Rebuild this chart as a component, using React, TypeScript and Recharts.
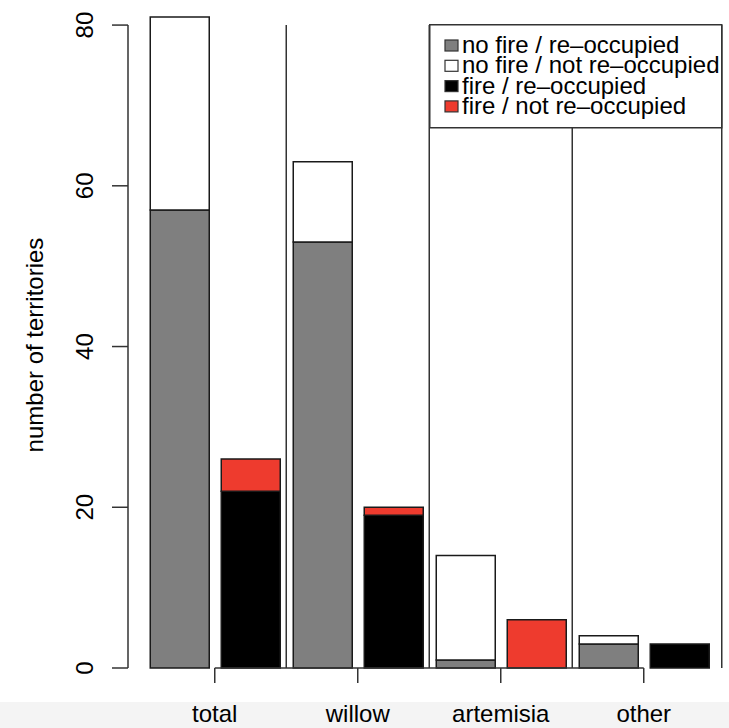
import { BarChart, Bar, XAxis, YAxis, ReferenceLine } from "recharts"

// territories per habitat group
const groups = ["total", "willow", "artemisia", "other"]
const noFireReoccupied = [57, 53, 1, 3]
const noFireNotReoccupied = [24, 10, 13, 1]
const fireReoccupied = [22, 19, 0, 3]
const fireNotReoccupied = [4, 1, 6, 0]
const yTicks = [0, 20, 40, 60, 80]

const legendLabels = [
  "no fire / re\u2013occupied",
  "no fire / not re\u2013occupied",
  "fire / re\u2013occupied",
  "fire / not re\u2013occupied",
]
const colors = ["#7f7f7f", "#ffffff", "#000000", "#ee3b2e"]

const FONT = '"Liberation Sans", Arial, Helvetica, sans-serif'
const LINE = "#333"
const EDGE = "#1a1a1a"

const data = groups.map((g, i) => ({
  group: g,
  grey: noFireReoccupied[i],
  white: noFireNotReoccupied[i],
  black: fireReoccupied[i],
  red: fireNotReoccupied[i],
}))

const yMax = 82
const plotTop = 9
const plotHeight = 659

function GroupTick({ x, y, payload }: any) {
  return (
    <text x={x} y={y + 39} textAnchor="middle" fontSize={24} fontFamily={FONT} fill="#000">
      {payload.value}
    </text>
  )
}

function CountTick({ x, y, payload }: any) {
  return (
    <text
      transform={`translate(${x - 19},${y}) rotate(-90)`}
      textAnchor="middle"
      fontSize={24}
      fontFamily={FONT}
      fill="#000"
    >
      {payload.value}
    </text>
  )
}

// separator line; the last one sits a little right of the last band edge
function Separator(props: any) {
  const { x1, y1, x2, y2, dx = 0 } = props
  return <line x1={x1 + dx} y1={y1} x2={x2 + dx} y2={y2} stroke={LINE} strokeWidth={1.5} />
}

export default function App() {
  // y axis line only runs from 0 to 80, like R's axis()
  const gapTop = ((yMax - 80) / yMax) * plotHeight
  return (
    <div style={{ position: "absolute", left: 0, top: 0, width: 729, height: 728, background: "#fff" }}>
      <div style={{ position: "absolute", left: 0, top: 702, width: 729, height: 26, background: "#f4f4f4" }} />
      <svg style={{ position: "absolute", left: 0, top: 0 }} width={60} height={728}>
        <text
          transform="translate(43,345) rotate(-90)"
          textAnchor="middle"
          fontSize={24}
          fontFamily={FONT}
          fill="#000"
        >
          number of territories
        </text>
      </svg>
      <div style={{ position: "absolute", left: 0, top: 0 }}>
        <BarChart
          width={729}
          height={728}
          data={data}
          barGap={12}
          margin={{ top: plotTop, right: 0, bottom: 0, left: 0 }}
        >
          <XAxis
            dataKey="group"
            padding={{ left: 15.25, right: 13.75 }}
            axisLine={false}
            tickSize={15}
            tickMargin={0}
            tickLine={{ stroke: LINE, strokeWidth: 1.5 }}
            tick={<GroupTick />}
            interval={0}
            height={60}
          />
          <YAxis
            width={128}
            domain={[0, yMax]}
            ticks={yTicks}
            interval={0}
            axisLine={{ stroke: LINE, strokeWidth: 1.5, strokeDasharray: `0 ${gapTop} ${plotHeight - gapTop} 100` }}
            tickSize={16}
            tickMargin={0}
            tickLine={{ stroke: LINE, strokeWidth: 1.5 }}
            tick={<CountTick />}
          />
          {groups.map((g, i) => (
            <ReferenceLine
              key={g}
              position="end"
              segment={[{ x: g, y: 0 }, { x: g, y: 80 }]}
              shape={<Separator dx={i === groups.length - 1 ? 6.5 : 0} />}
              ifOverflow="visible"
            />
          ))}
          <Bar dataKey="grey" stackId="nofire" fill={colors[0]} stroke={EDGE} strokeWidth={1.5} barSize={59} isAnimationActive={false} />
          <Bar dataKey="white" stackId="nofire" fill={colors[1]} stroke={EDGE} strokeWidth={1.5} barSize={59} isAnimationActive={false} />
          <Bar dataKey="black" stackId="fire" fill={colors[2]} stroke={EDGE} strokeWidth={1.5} barSize={59} isAnimationActive={false} />
          <Bar dataKey="red" stackId="fire" fill={colors[3]} stroke={EDGE} strokeWidth={1.5} barSize={59} isAnimationActive={false} />
          <ReferenceLine
            segment={[{ x: groups[0], y: 0 }, { x: groups[groups.length - 1], y: 0 }]}
            stroke={LINE}
            strokeWidth={1.5}
            ifOverflow="visible"
          />
        </BarChart>
      </div>
      <svg style={{ position: "absolute", left: 429, top: 24 }} width={294} height={105}>
        <rect x={0.75} y={0.75} width={292} height={103} fill="#fff" stroke={LINE} strokeWidth={1.5} />
        {legendLabels.map((l, i) => (
          <g key={l}>
            <rect x={16} y={16 + i * 20.3} width={13} height={11} fill={colors[i]} stroke={LINE} strokeWidth={1.2} />
            <text x={33} y={29 + i * 20.3} fontSize={24} fontFamily={FONT} fill="#000">
              {l}
            </text>
          </g>
        ))}
      </svg>
    </div>
  )
}
